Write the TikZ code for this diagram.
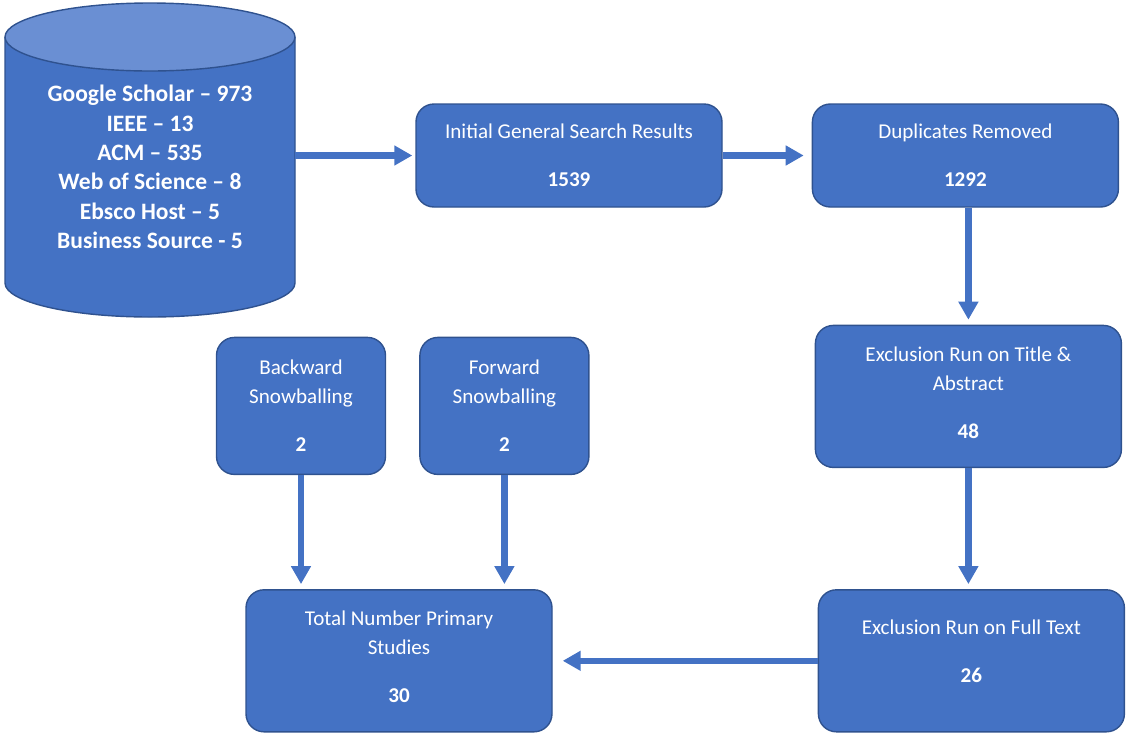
\documentclass[tikz,border=0pt]{standalone}
\usepackage{fontspec}
\setmainfont{Carlito}
\usepackage{xcolor}
\usepackage{tikz}
\usetikzlibrary{arrows.meta, positioning, backgrounds}

\definecolor{boxblue}{HTML}{4472C4}
\definecolor{edgeblue}{HTML}{2F528F}
\definecolor{lidblue}{HTML}{6A8FD3}

\begin{document}
\begin{tikzpicture}[
    node distance=1.78cm,
    box/.style={draw=edgeblue, fill=boxblue, line width=0.8pt, rounded corners=0.36cm, minimum width=6.12cm, minimum height=2.06cm, align=center, text=white, font=\fontsize{12}{16.4}\selectfont},
    tall/.style={box, minimum height=2.84cm},
    snow/.style={box, minimum width=3.38cm, minimum height=2.74cm},
    dbtext/.style={align=center, text=white, font=\fontsize{13.4}{16.7}\selectfont\bfseries},
    line/.style={-{Triangle[width=0.38cm, length=0.36cm]}, line width=0.13cm, boxblue, shorten >=0.1cm}
]
\useasboundingbox (0,0) rectangle (22.56,-14.8);

% Database cylinder
\coordinate (dbtop) at (3.0,-0.74);
\coordinate (dbbot) at (3.0,-5.66);
\coordinate (dbside) at (5.9,-3.11);
\fill[boxblue] ([xshift=-2.9cm]dbtop) -- ([xshift=-2.9cm]dbbot) arc[start angle=180, end angle=360, x radius=2.9cm, y radius=0.68cm] -- ([xshift=2.9cm]dbtop) -- cycle;
\draw[edgeblue, line width=0.8pt] ([xshift=-2.9cm]dbtop) -- ([xshift=-2.9cm]dbbot) arc[start angle=180, end angle=360, x radius=2.9cm, y radius=0.68cm] -- ([xshift=2.9cm]dbtop);
\draw[edgeblue, line width=0.8pt, fill=lidblue] (dbtop) ellipse[x radius=2.9cm, y radius=0.68cm];
\node[dbtext] (db) at (3.0,-3.34) {Google Scholar -- 973\\IEEE -- 13\\ACM -- 535\\Web of Science -- 8\\Ebsco Host -- 5\\Business Source - 5};

% Main flow
\node[box] (init) at (11.38,-3.11) {Initial General Search Results\\[11pt]\textbf{1539}};
\node[box, right=of init] (dup) {Duplicates Removed\\[11pt]\textbf{1292}};
\node[tall, below=2.34cm of dup, xshift=0.06cm] (title) {Exclusion Run on Title \&\\Abstract\\[11pt]\textbf{48}\\[-12pt]\mbox{}};
\node[tall, below=2.42cm of title, xshift=0.06cm] (full) {Exclusion Run on Full Text\\[11pt]\textbf{26}\\[-5pt]\mbox{}};
\node[tall, left=5.3cm of full] (total) {Total Number Primary\\Studies\\[11pt]\textbf{30}\\[-12pt]\mbox{}};

% Snowballing
\node[snow, above=2.28cm of total, xshift=-1.96cm] (back) {Backward\\Snowballing\\[11pt]\textbf{2}};
\node[snow, right=0.66cm of back] (fwd) {Forward\\Snowballing\\[11pt]\textbf{2}};

% Arrows
\draw[line, shorten >=0.06cm] (dbside) -- (init.west);
\draw[line, shorten >=0.16cm] (init) -- (dup);
\draw[line] (dup.south -| title) -- (title);
\draw[line] (title) -- (full.north -| title);
\draw[line, shorten >=0.2cm] (full) -- (total);
\draw[line] (back) -- (back |- total.north);
\draw[line] (fwd) -- (fwd |- total.north);

\end{tikzpicture}
\end{document}
